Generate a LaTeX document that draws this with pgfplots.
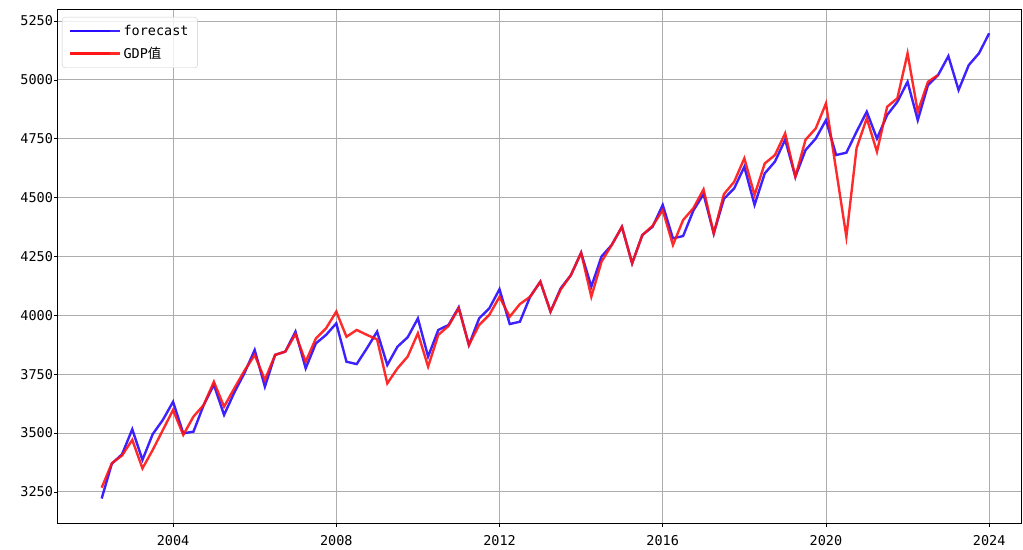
\documentclass[border=0pt]{standalone}
\usepackage{fontspec}
\setmainfont{DejaVu Sans Mono}
\newfontfamily\cjk{Noto Sans CJK SC}
\usepackage{pgfplots}
\usepackage{pgfplotstable}
\pgfplotsset{compat=1.18}

\pgfplotstableread{
t v
2002.25 3222
2002.5 3370
2002.75 3410
2003.0 3516
2003.25 3386
2003.5 3495
2003.75 3556
2004.0 3633
2004.25 3499
2004.5 3506
2004.75 3619
2005.0 3705
2005.25 3577
2005.5 3672
2005.75 3755
2006.0 3853
2006.25 3697
2006.5 3832
2006.75 3846
2007.0 3931
2007.25 3775
2007.5 3881
2007.75 3917
2008.0 3966
2008.25 3803
2008.5 3793
2008.75 3860
2009.0 3931
2009.25 3789
2009.5 3867
2009.75 3907
2010.0 3987
2010.25 3825
2010.5 3938
2010.75 3959
2011.0 4034
2011.25 3874
2011.5 3987
2011.75 4030
2012.0 4111
2012.25 3963
2012.5 3973
2012.75 4079
2013.0 4143
2013.25 4016
2013.5 4115
2013.75 4171
2014.0 4266
2014.25 4122
2014.5 4250
2014.75 4299
2015.0 4376
2015.25 4221
2015.5 4341
2015.75 4376
2016.0 4469
2016.25 4327
2016.5 4337
2016.75 4445
2017.0 4515
2017.25 4348
2017.5 4495
2017.75 4539
2018.0 4631
2018.25 4469
2018.5 4603
2018.75 4653
2019.0 4746
2019.25 4589
2019.5 4702
2019.75 4751
2020.0 4829
2020.25 4681
2020.5 4691
2020.75 4780
2021.0 4865
2021.25 4751
2021.5 4851
2021.75 4907
2022.0 4992
2022.25 4829
2022.5 4978
2022.75 5021
2023.0 5101
2023.25 4957
2023.5 5063
2023.75 5113
2024.0 5198
}\forecast

\pgfplotstableread{
t v
2002.25 3268
2002.5 3372
2002.75 3405
2003.0 3471
2003.25 3350
2003.5 3428
2003.75 3513
2004.0 3598
2004.25 3492
2004.5 3570
2004.75 3619
2005.0 3718
2005.25 3612
2005.5 3690
2005.75 3765
2006.0 3832
2006.25 3726
2006.5 3832
2006.75 3846
2007.0 3920
2007.25 3803
2007.5 3902
2007.75 3945
2008.0 4016
2008.25 3909
2008.5 3938
2008.75 3917
2009.0 3898
2009.25 3711
2009.5 3775
2009.75 3825
2010.0 3924
2010.25 3782
2010.5 3917
2010.75 3955
2011.0 4030
2011.25 3874
2011.5 3959
2011.75 4002
2012.0 4079
2012.25 3994
2012.5 4048
2012.75 4079
2013.0 4143
2013.25 4016
2013.5 4110
2013.75 4171
2014.0 4266
2014.25 4079
2014.5 4228
2014.75 4299
2015.0 4376
2015.25 4221
2015.5 4341
2015.75 4380
2016.0 4447
2016.25 4299
2016.5 4405
2016.75 4455
2017.0 4535
2017.25 4348
2017.5 4515
2017.75 4567
2018.0 4667
2018.25 4511
2018.5 4645
2018.75 4681
2019.0 4773
2019.25 4589
2019.5 4746
2019.75 4794
2020.0 4900
2020.25 4617
2020.5 4334
2020.75 4710
2021.0 4837
2021.25 4695
2021.5 4886
2021.75 4922
2022.0 5113
2022.25 4865
2022.5 4992
2022.75 5021
}\gdp

\begin{document}
\begin{tikzpicture}
\begin{axis}[
  at={(0,0)}, anchor=south west,
  scale only axis, width=963pt, height=513pt,
  xmin=2001.18, xmax=2024.78, ymin=3118, ymax=5297,
  xtick={2004,2008,2012,2016,2020,2024},
  ytick={3250,3500,3750,4000,4250,4500,4750,5000,5250},
  grid=major, grid style={black!32, line width=0.9pt},
  tick align=outside, tick pos=left, major tick length=4pt,
  tick style={black, line width=0.8pt},
  axis line style={line width=1pt},
  ticklabel style={font=\fontsize{13.5}{15}\selectfont},
  yticklabel style={xshift=2.5pt},
  xticklabel style={yshift=-5pt},
  /pgf/number format/assume math mode=true,
  /pgf/number format/1000 sep={},
  legend cell align=left,
  legend style={at={(0,1)}, anchor=north west, xshift=4pt, yshift=-7pt,
    draw=black!20, rounded corners=3pt, fill=white, fill opacity=0.8, text opacity=1,
    font=\fontsize{13.5}{15}\selectfont, row sep=6pt, inner xsep=7pt, inner ysep=6pt},
  legend image code/.code={\draw[#1] (0pt,0pt) -- (40pt,0pt); \path (0pt,0pt) -- (50pt,0pt);},
]
\addplot[color={rgb,255:red,40;green,10;blue,255}, line width=2.4pt, opacity=0.9] table[x=t,y=v] {\forecast};
\addlegendentry{forecast}
\addplot[color={rgb,255:red,255;green,20;blue,20}, line width=2.4pt, opacity=0.9] table[x=t,y=v] {\gdp};
\addlegendentry{GDP{\cjk 值}}
\end{axis}
\path[use as bounding box] (-58pt,-24pt) rectangle (965pt,523pt);
\end{tikzpicture}
\end{document}
